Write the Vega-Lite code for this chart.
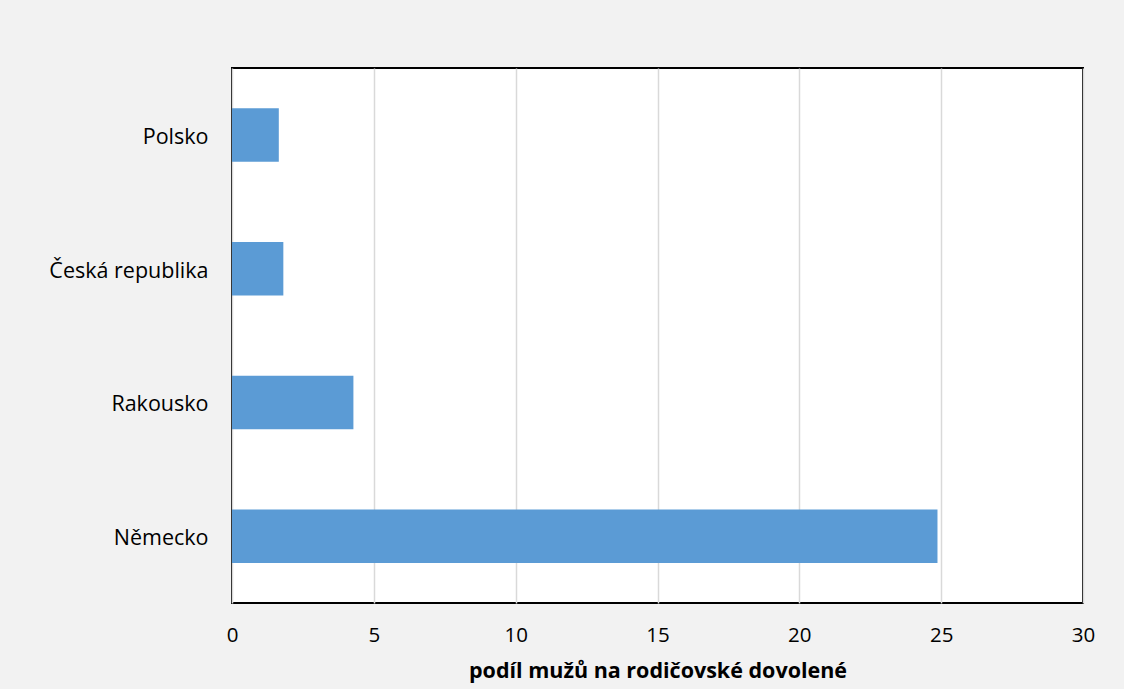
{
  "$schema": "https://vega.github.io/schema/vega-lite/v6.json",
  "autosize": {"type": "none"},
  "width": 851,
  "height": 535,
  "padding": {"left": 232, "top": 68, "right": 41, "bottom": 86},
  "background": "#f2f2f2",
  "data": {"values": [
    {"zeme": "Polsko", "podil": 1.65},
    {"zeme": "Česká republika", "podil": 1.81},
    {"zeme": "Rakousko", "podil": 4.28},
    {"zeme": "Německo", "podil": 24.87}
  ]},
  "mark": {"type": "bar", "color": "#5b9bd5"},
  "encoding": {
    "y": {
      "field": "zeme", "type": "nominal", "sort": null,
      "scale": {"paddingInner": 0.6, "paddingOuter": 0.3},
      "axis": {"title": null, "ticks": false, "domain": false, "labelFont": "Open Sans", "labelFontSize": 21.5, "labelColor": "#000000", "labelPadding": 24, "labelOffset": 3}
    },
    "x": {
      "field": "podil", "type": "quantitative",
      "scale": {"domain": [0, 30], "nice": false},
      "axis": {"title": "podíl mužů na rodičovské dovolené", "titleFont": "Open Sans", "titleFontSize": 21.5, "titleFontWeight": "bold", "titleColor": "#000000", "titlePadding": 15, "values": [0, 5, 10, 15, 20, 25, 30], "ticks": false, "domain": false, "labelFont": "Open Sans", "labelFontSize": 20.5, "labelColor": "#000000", "labelPadding": 22, "labelFlush": false, "labelBound": false, "grid": true, "gridColor": "#d9d9d9", "gridWidth": 1.5}
    }
  },
  "config": {"view": {"fill": "#ffffff", "stroke": "#000000", "strokeWidth": 2}}
}
